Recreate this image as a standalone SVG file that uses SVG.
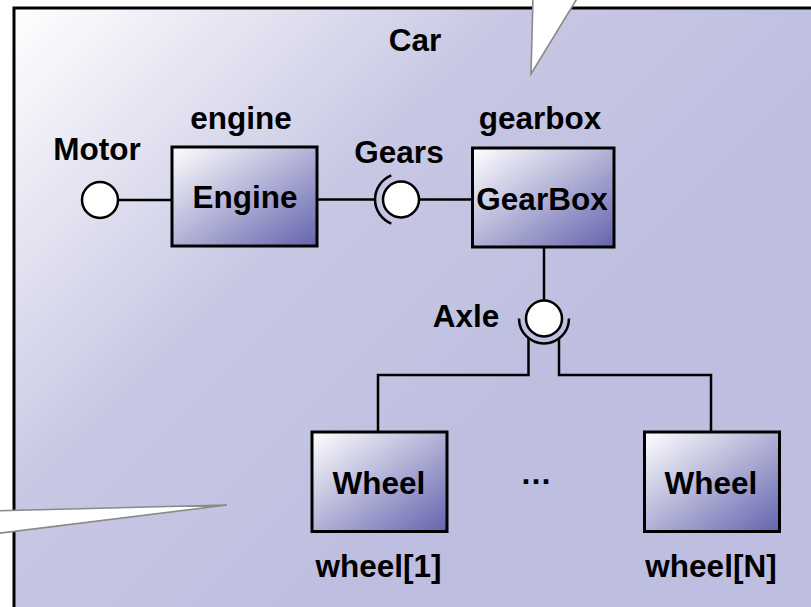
<svg xmlns="http://www.w3.org/2000/svg" width="811" height="607" viewBox="0 0 811 607">
  <defs>
    <linearGradient id="frameFill" gradientUnits="userSpaceOnUse" x1="14" y1="8" x2="460" y2="460">
      <stop offset="0" stop-color="#ffffff"/>
      <stop offset="0.55" stop-color="#c8c8e4"/>
      <stop offset="1" stop-color="#bebee0"/>
    </linearGradient>
    <linearGradient id="partFill" x1="0" y1="0" x2="1" y2="1">
      <stop offset="0" stop-color="#ffffff"/>
      <stop offset="1" stop-color="#6464ae"/>
    </linearGradient>
    <style>
      text { font-family: "Liberation Sans", Arial, sans-serif; font-weight: bold; font-size: 31.5px; fill: #000; text-anchor: middle; }
      .frame { fill: url(#frameFill); stroke: #000; stroke-width: 3; }
      .callout { fill: #ffffff; stroke: #8a8a8a; stroke-width: 1.6; stroke-linejoin: miter; }
      .part { fill: url(#partFill); stroke: #000; stroke-width: 3; }
      .iface { fill: #ffffff; stroke: #000; stroke-width: 2.5; }
      .wire { fill: none; stroke: #000; stroke-width: 2.5; }
    </style>
  </defs>

  <!-- enclosing Car structure -->
  <g id="car">
    <rect class="frame" x="14" y="8" width="820" height="620"/>
    <text x="415" y="51">Car</text>
  </g>

  <!-- note pointers -->
  <g id="notes">
    <polygon class="callout" points="533,-3 531,74 578,-3"/>
    <polygon class="callout" points="-3,510.8 227,505 -3,533.5"/>
  </g>

  <!-- connectors -->
  <g id="connectors">
    <line class="wire" x1="118" y1="200" x2="172" y2="200"/>
    <line class="wire" x1="317" y1="199.5" x2="375" y2="199.5"/>
    <line class="wire" x1="419" y1="199.5" x2="473" y2="199.5"/>
    <line class="wire" x1="544" y1="248" x2="544" y2="300"/>
    <path class="wire" d="M 528.5 338 V 375 H 378 V 432"/>
    <path class="wire" d="M 559 338 V 375 H 711 V 432"/>
  </g>

  <!-- ports -->
  <g id="motor">
    <circle class="iface" cx="100" cy="200" r="18"/>
    <text x="97" y="160">Motor</text>
  </g>
  <g id="gears">
    <path class="wire" d="M 391.3 175.4 A 26 26 0 0 0 391.3 223.6"/>
    <circle class="iface" cx="401" cy="199.5" r="18"/>
    <text x="399" y="163">Gears</text>
  </g>
  <g id="axle">
    <path class="wire" d="M 519 318.5 A 25 25 0 0 0 569 318.5"/>
    <circle class="iface" cx="544" cy="318.5" r="18"/>
    <text x="466" y="327">Axle</text>
  </g>

  <!-- parts -->
  <g id="engine">
    <rect class="part" x="172" y="147" width="145" height="99"/>
    <text x="245" y="208">Engine</text>
    <text x="241" y="129">engine</text>
  </g>
  <g id="gearbox">
    <rect class="part" x="472.5" y="148" width="141.5" height="99"/>
    <text x="542" y="210">GearBox</text>
    <text x="540" y="129">gearbox</text>
  </g>
  <g id="wheel1">
    <rect class="part" x="312" y="432" width="135" height="99.5"/>
    <text x="379" y="494">Wheel</text>
    <text x="378.5" y="577">wheel[1]</text>
  </g>
  <g id="ellipsis">
    <text x="536" y="484">…</text>
  </g>
  <g id="wheelN">
    <rect class="part" x="644.5" y="432" width="135" height="99.5"/>
    <text x="711" y="494">Wheel</text>
    <text x="711" y="577">wheel[N]</text>
  </g>
</svg>
